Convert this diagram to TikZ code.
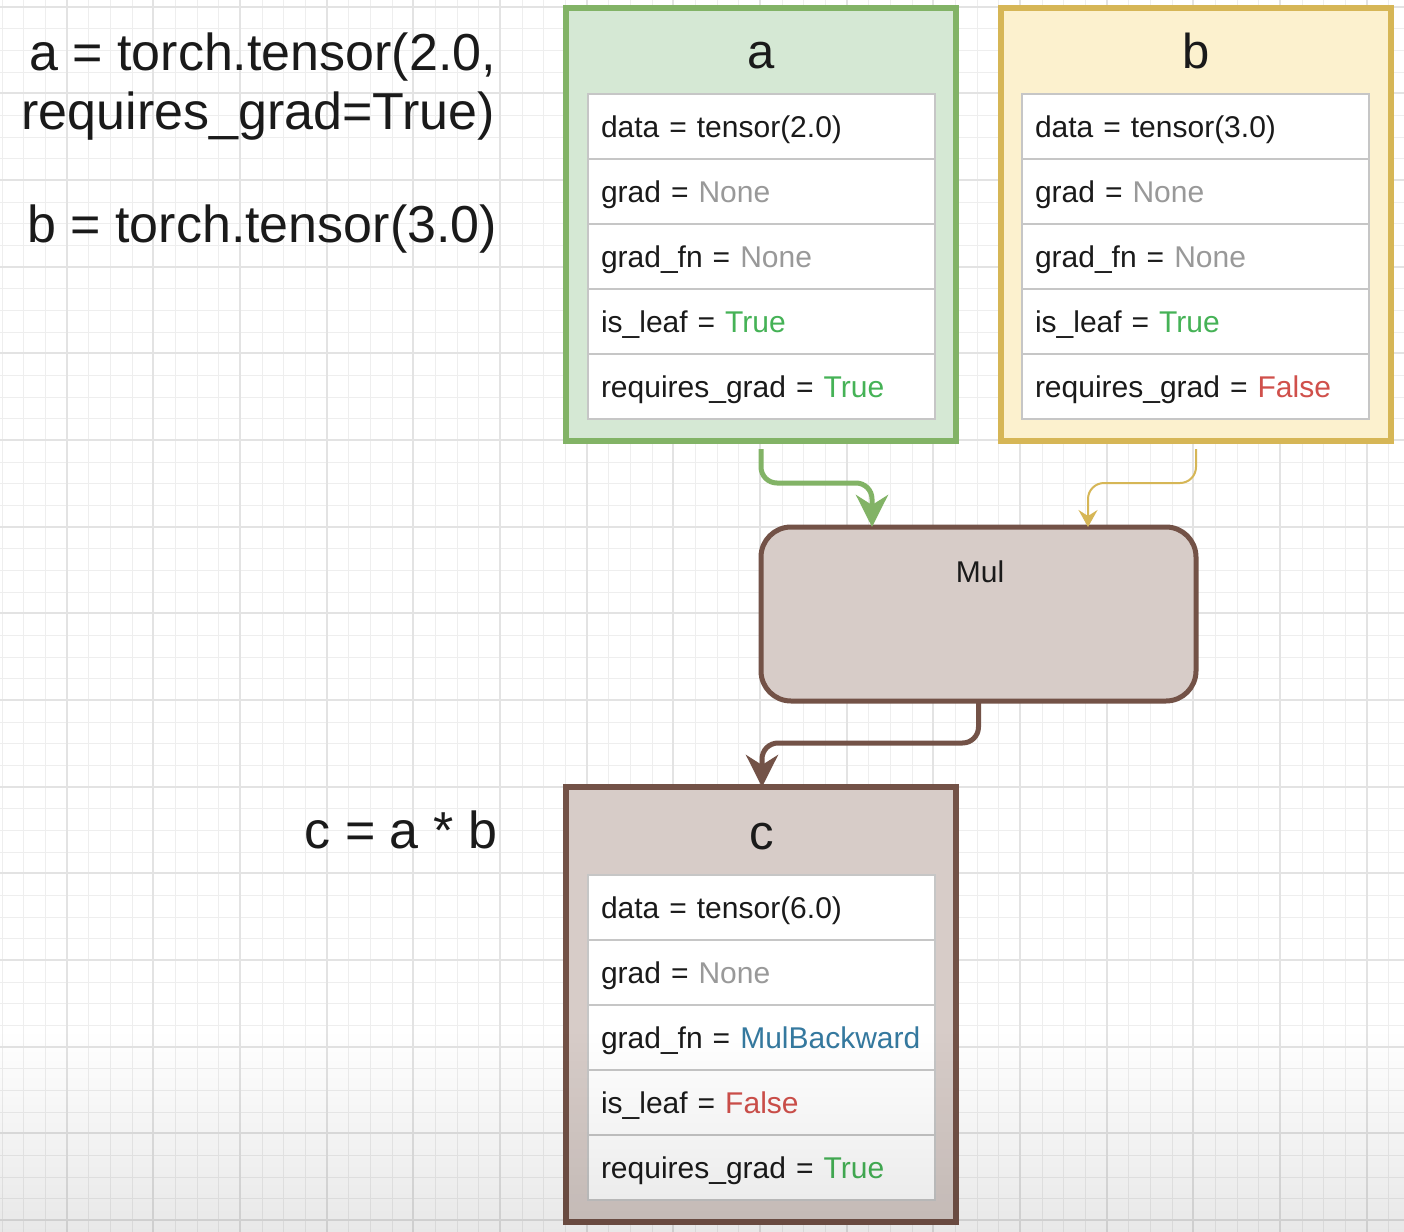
\documentclass[tikz,border=0pt]{standalone}
\usepackage{fontspec}
\setmainfont{Liberation Sans}
\usetikzlibrary{arrows.meta,fadings}
\definecolor{agreen}{HTML}{82B366}
\definecolor{agreenfill}{HTML}{D5E8D4}
\definecolor{byellow}{HTML}{D6B656}
\definecolor{byellowfill}{HTML}{FCF1CE}
\definecolor{cbrown}{HTML}{735247}
\definecolor{cbrownfill}{HTML}{D7CCC8}
\definecolor{rowgray}{HTML}{C6C6C6}
\definecolor{txt}{HTML}{1A1A1A}
\definecolor{nonegray}{HTML}{999999}
\definecolor{truegreen}{HTML}{45B256}
\definecolor{falsered}{HTML}{D0504B}
\definecolor{mulblue}{HTML}{35799F}
\definecolor{minorgrid}{HTML}{EEEEEE}
\definecolor{majorgrid}{HTML}{E3E3E3}
\tikzfading[name=fadedown, top color=transparent!100, bottom color=transparent!0]
\newcommand{\valNone}{\textcolor{nonegray}{None}}
\newcommand{\valTrue}{\textcolor{truegreen}{True}}
\newcommand{\valFalse}{\textcolor{falsered}{False}}
\begin{document}
\begin{tikzpicture}[x=0.5pt,y=-0.5pt,
  every node/.style={text=txt, outer sep=0pt},
  outerbox/.style={line width=3pt, minimum width=195pt, minimum height=216.75pt, anchor=north west, inner sep=0pt},
  boxtitle/.style={anchor=base, font=\fontsize{24.5}{28}\selectfont},
  codetext/.style={anchor=base east, inner sep=0pt, font=\fontsize{26}{31}\selectfont},
  rowbox/.style={draw=rowgray, fill=white, line width=0.75pt, minimum width=173.5pt, minimum height=32.5pt,
     text width=160.5pt, inner xsep=6.5pt, inner ysep=0pt, text height=12pt, text depth=1.5pt,
     align=left, anchor=north west, font=\fontsize{15}{18}\selectfont},
  conn/.style={rounded corners=8pt},
]
\useasboundingbox (0,0) rectangle (1404,1232);
\fill[white] (0,0) rectangle (1404,1232);
% grid
\foreach \i in {0,...,64} {\draw[minorgrid, line width=0.5pt] ({round(1.67+21.667*\i)+0.5},0) -- ({round(1.67+21.667*\i)+0.5},1232);}
\foreach \j in {0,...,56} {\draw[minorgrid, line width=0.5pt] (0,{round(6.67+21.667*\j)+0.5}) -- (1404,{round(6.67+21.667*\j)+0.5});}
\foreach \i in {0,...,15} {\draw[majorgrid, line width=1pt] ({round(66.67+86.667*\i)},0) -- ({round(66.67+86.667*\i)},1232);}
\foreach \j in {0,...,14} {\draw[majorgrid, line width=1pt] (0,{round(6.67+86.667*\j)}) -- (1404,{round(6.67+86.667*\j)});}

% code text
\node[codetext] (la1) at (496,70) {a = torch.tensor(2.0,};
\node[codetext] (la2) at (495,129) {requires\_grad=True)};
\node[codetext] (lb) at (497,242) {b = torch.tensor(3.0)};
\node[codetext] (lc) at (497,848) {c = a * b};

% box a
\node[outerbox, draw=agreen, fill=agreenfill] (boxa) at (566,7.5) {};
\node[boxtitle] (ta) at (761,68) {a};
\node[rowbox] (a1) at (588,94) {data = tensor(2.0)};
\node[rowbox] (a2) at (588,159) {grad = \valNone};
\node[rowbox] (a3) at (588,224) {grad\_fn = \valNone};
\node[rowbox] (a4) at (588,289) {is\_leaf = \valTrue};
\node[rowbox] (a5) at (588,354) {requires\_grad = \valTrue};

% box b
\node[outerbox, draw=byellow, fill=byellowfill] (boxb) at (1001,7.5) {};
\node[boxtitle] (tb) at (1196,68) {b};
\node[rowbox] (b1) at (1022,94) {data = tensor(3.0)};
\node[rowbox] (b2) at (1022,159) {grad = \valNone};
\node[rowbox] (b3) at (1022,224) {grad\_fn = \valNone};
\node[rowbox] (b4) at (1022,289) {is\_leaf = \valTrue};
\node[rowbox] (b5) at (1022,354) {requires\_grad = \valFalse};

% Mul
\node[draw=cbrown, fill=cbrownfill, line width=2.5pt, rounded corners=15pt, minimum width=217.5pt, minimum height=87pt, anchor=north west, inner sep=0pt] (mul) at (761,527) {};
\node[anchor=base, font=\fontsize{15}{18}\selectfont] (mullabel) at (980,582) {Mul};

% box c
\node[outerbox, draw=cbrown, fill=cbrownfill, minimum height=217.5pt] (boxc) at (566,787) {};
\node[boxtitle] (tc) at (762,849) {c};
\node[rowbox] (c1) at (588,875) {data = tensor(6.0)};
\node[rowbox] (c2) at (588,940) {grad = \valNone};
\node[rowbox] (c3) at (588,1005) {grad\_fn = \textcolor{mulblue}{MulBackward}};
\node[rowbox] (c4) at (588,1070) {is\_leaf = \valFalse};
\node[rowbox] (c5) at (588,1135) {requires\_grad = \valTrue};

% connectors
\coordinate (g1) at (872,483);
\coordinate (y1) at (1088,483);
\coordinate (m1) at (762,743);
\draw[conn, draw=agreen, line width=2.5pt, -{Stealth[length=16pt,width=16pt,inset=5pt]}]
  ([yshift=-4pt]boxa.south) |- (g1) -- (mul.north -| g1);
\draw[conn, draw=byellow, line width=1pt, -{Stealth[length=8.5pt,width=9.5pt,inset=3pt]}]
  ([yshift=-4pt]boxb.south) |- (y1) -- (mul.north -| y1);
\draw[conn, draw=cbrown, line width=2.5pt, -{Stealth[length=16pt,width=16pt,inset=5pt]}]
  (mul.south) |- (m1) -- (boxc.north -| m1);

% bottom gradient
\fill[black, fill opacity=0.09, path fading=fadedown] (0,1030) rectangle (1404,1232);
\end{tikzpicture}
\end{document}
